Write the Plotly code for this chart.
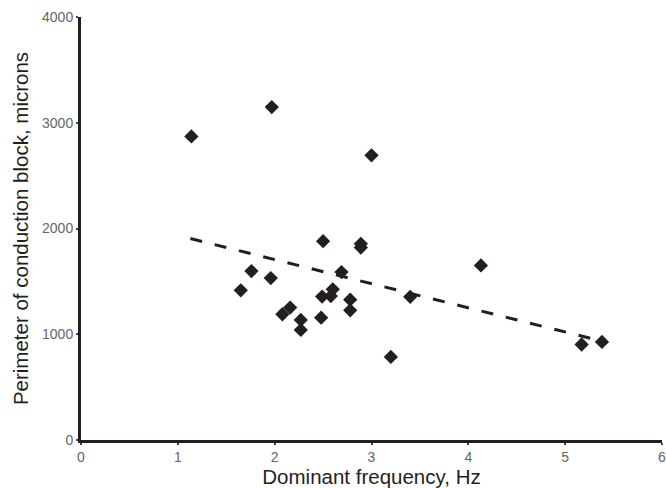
import plotly.graph_objects as go

freq_hz = [1.14, 1.97, 3.00, 2.50, 2.89, 2.89, 1.76, 1.96, 1.65, 2.69, 2.60,
           2.49, 2.58, 2.78, 2.78, 2.16, 2.08, 2.27, 2.27, 2.48, 3.20, 3.40,
           4.13, 5.17, 5.38]
perimeter_um = [2871, 3148, 2692, 1880, 1855, 1820, 1597, 1531, 1415, 1588, 1425,
                1356, 1361, 1327, 1226, 1252, 1189, 1135, 1041, 1157, 786, 1354,
                1651, 903, 927]

# trend line end points
trend_x = [1.13, 5.38]
trend_y = [1905, 935]

x_ticks = [0, 1, 2, 3, 4, 5, 6]
y_ticks = [0, 1000, 2000, 3000, 4000]

FONT = 'Liberation Sans, Arial'

fig = go.Figure()

fig.add_trace(go.Scatter(x=trend_x, y=trend_y, mode='lines',
                         line=dict(color='#231f20', width=3, dash='12px,13px'),
                         hoverinfo='skip'))

fig.add_trace(go.Scatter(x=freq_hz, y=perimeter_um, mode='markers',
                         marker=dict(symbol='diamond', size=11, color='#231f20',
                                     line=dict(width=0))))

axis_style = dict(showgrid=False, zeroline=False, showline=True,
                  linecolor='#231f20', linewidth=3,
                  ticks='outside', ticklen=2, tickwidth=2, tickcolor='#444',
                  tickfont=dict(family=FONT, size=14, color='#666666'))

fig.update_xaxes(range=[0, 6], tickvals=x_ticks, ticklabeloverflow='allow',
                 title=dict(text='Dominant frequency, Hz', standoff=1,
                            font=dict(family=FONT, size=20.5, color='#231f20')),
                 **axis_style)
fig.update_yaxes(range=[0, 4000], tickvals=y_ticks,
                 title=dict(text='Perimeter of conduction block, microns', standoff=8,
                            font=dict(family=FONT, size=20.5, color='#231f20')),
                 **axis_style)

fig.update_layout(width=666, height=488, showlegend=False,
                  plot_bgcolor='white', paper_bgcolor='white',
                  margin=dict(l=81, r=4, t=17, b=48, autoexpand=False))

# drop the default page margin so the figure sits at the window corner
fig.write_html("out.html", config={'displayModeBar': False},
               post_script="document.body.style.margin='0px';")
